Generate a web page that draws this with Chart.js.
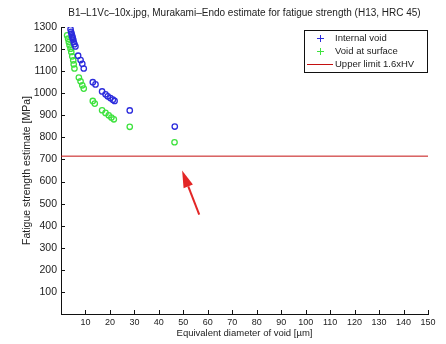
<!DOCTYPE html>
<html>
<head>
<meta charset="utf-8">
<script src="https://cdn.jsdelivr.net/npm/chart.js@4/dist/chart.umd.min.js"></script>
<style>
  html, body { margin: 0; padding: 0; background: #fff; }
  #wrap { width: 446px; height: 344px; }
</style>
</head>
<body>
<div id="wrap"><canvas id="c" width="446" height="344"></canvas></div>
<script>
// Equivalent void diameter [µm] and Murakami-Endo fatigue strength estimate [MPa]
const internalDiam = [3.9, 4.1, 4.3, 4.5, 4.6, 4.8, 5.0, 5.2, 5.5, 5.9, 7.0, 8.0, 8.7, 9.3, 13.0, 14.1, 16.8, 18.2, 19.1, 20.2, 21.2, 21.9, 28.1, 46.5];
const internalStrength = [1290, 1278, 1270, 1262, 1256, 1250, 1243, 1232, 1222, 1212, 1170, 1150, 1133, 1112, 1050, 1040, 1008, 995, 986, 978, 971, 965, 922, 849];

const surfaceDiam = [2.5, 2.9, 3.2, 3.5, 3.9, 4.2, 4.6, 5.0, 5.2, 5.5, 7.3, 8.0, 8.7, 9.3, 13.0, 13.8, 16.8, 18.2, 19.5, 20.6, 21.6, 28.1, 46.4];
const surfaceStrength = [1262, 1247, 1232, 1217, 1202, 1187, 1167, 1149, 1131, 1112, 1071, 1054, 1036, 1021, 965, 953, 923, 911, 900, 890, 882, 848, 778];

// Upper limit 1.6 x HV
const upperLimit = 715;
const xRange = [0, 150];

// Arrow pointing at the upper-limit line (data units: tail -> tip)
const arrowTail = { x: 56.5, y: 450 };
const arrowTip = { x: 49.5, y: 650 };

const seriesNames = ['Internal void', 'Void at surface', 'Upper limit 1.6xHV'];
const blue = '#2b2bdc';
const green = '#3ee23e';
const red = '#c41010';
const fontFamily = '"Liberation Sans", Arial, sans-serif';

const toPoints = (xs, ys) => xs.map((x, i) => ({ x, y: ys[i] }));

// Inward tick marks on the left and bottom axes
const inwardTicks = {
  id: 'inwardTicks',
  afterDatasetsDraw(chart) {
    const { ctx, scales: { x, y } } = chart;
    ctx.save();
    ctx.strokeStyle = '#111';
    ctx.lineWidth = 1;
    ctx.beginPath();
    x.ticks.forEach((t, i) => {
      if (t.value === 0) return;
      const px = Math.round(x.getPixelForTick(i)) + 0.5;
      ctx.moveTo(px, y.bottom);
      ctx.lineTo(px, y.bottom - 4);
    });
    y.ticks.forEach((t, i) => {
      if (t.value === 0) return;
      const py = Math.round(y.getPixelForTick(i)) + 0.5;
      ctx.moveTo(x.left, py);
      ctx.lineTo(x.left + 4, py);
    });
    ctx.stroke();
    ctx.restore();
  }
};

// Red arrow annotation
const arrowPlugin = {
  id: 'arrowPlugin',
  afterDatasetsDraw(chart) {
    const { ctx, scales: { x, y } } = chart;
    const x0 = x.getPixelForValue(arrowTail.x), y0 = y.getPixelForValue(arrowTail.y);
    const x1 = x.getPixelForValue(arrowTip.x), y1 = y.getPixelForValue(arrowTip.y);
    const ang = Math.atan2(y1 - y0, x1 - x0);
    const headLen = 17, headHalf = 5;
    const bx = x1 - headLen * Math.cos(ang), by = y1 - headLen * Math.sin(ang);
    ctx.save();
    ctx.strokeStyle = '#e32626';
    ctx.fillStyle = '#e32626';
    ctx.lineWidth = 2;
    ctx.beginPath();
    ctx.moveTo(x0, y0);
    ctx.lineTo(bx, by);
    ctx.stroke();
    ctx.beginPath();
    ctx.moveTo(x1, y1);
    ctx.lineTo(bx + headHalf * Math.sin(ang), by - headHalf * Math.cos(ang));
    ctx.lineTo(bx - headHalf * Math.sin(ang), by + headHalf * Math.cos(ang));
    ctx.closePath();
    ctx.fill();
    ctx.restore();
  }
};

// Boxed legend in the upper-right corner of the plot area
const boxLegend = {
  id: 'boxLegend',
  afterDraw(chart) {
    const { ctx, chartArea } = chart;
    const w = 123, h = 42;
    const left = chartArea.right - w - 1, top = chartArea.top + 3;
    ctx.save();
    ctx.fillStyle = '#fff';
    ctx.fillRect(left, top, w, h);
    ctx.strokeStyle = '#111';
    ctx.lineWidth = 1;
    ctx.strokeRect(Math.round(left) + 0.5, Math.round(top) + 0.5, w, h);
    ctx.font = '9.5px ' + fontFamily;
    ctx.textBaseline = 'middle';
    chart.data.datasets.forEach((ds, i) => {
      const cy = Math.round(top + 8 + i * 12.8);
      ctx.strokeStyle = ds.borderColor;
      ctx.lineWidth = 1;
      ctx.beginPath();
      if (ds.type === 'line') {
        ctx.moveTo(left + 3, cy + 0.5);
        ctx.lineTo(left + 29, cy + 0.5);
      } else {
        const mx = Math.round(left + 16);
        ctx.moveTo(mx - 3, cy + 0.5);
        ctx.lineTo(mx + 4, cy + 0.5);
        ctx.moveTo(mx + 0.5, cy - 3);
        ctx.lineTo(mx + 0.5, cy + 4);
      }
      ctx.stroke();
      ctx.fillStyle = '#222';
      ctx.fillText(ds.label, left + 31, cy + 0.5);
    });
    ctx.restore();
  }
};

new Chart(document.getElementById('c'), {
  type: 'scatter',
  data: {
    datasets: [
      {
        label: seriesNames[0],
        data: toPoints(internalDiam, internalStrength),
        borderColor: blue,
        backgroundColor: 'rgba(0,0,0,0)',
        pointRadius: 2.7,
        pointBorderWidth: 1.3,
        pointStyle: 'circle'
      },
      {
        label: seriesNames[1],
        data: toPoints(surfaceDiam, surfaceStrength),
        borderColor: green,
        backgroundColor: 'rgba(0,0,0,0)',
        pointRadius: 2.7,
        pointBorderWidth: 1.3,
        pointStyle: 'circle'
      },
      {
        type: 'line',
        label: seriesNames[2],
        data: xRange.map(x => ({ x, y: upperLimit })),
        borderColor: red,
        borderWidth: 1,
        pointRadius: 0,
        fill: false
      }
    ]
  },
  options: {
    responsive: false,
    animation: false,
    layout: { padding: { left: 0, right: 18, top: 0, bottom: 0 } },
    plugins: {
      legend: { display: false },
      tooltip: { enabled: false },
      title: {
        display: true,
        fullSize: false,
        text: 'B1\u2013L1Vc\u201310x.jpg, Murakami\u2013Endo estimate for fatigue strength (H13, HRC 45)',
        color: '#222',
        font: { family: fontFamily, size: 10, weight: 'normal' },
        padding: { top: 7, bottom: 8 }
      }
    },
    scales: {
      x: {
        type: 'linear',
        min: 0,
        max: 150,
        grid: { display: true, drawOnChartArea: false, drawTicks: false },
        border: { display: true, color: '#111', width: 1 },
        ticks: {
          stepSize: 10,
          padding: 3,
          color: '#222',
          font: { family: fontFamily, size: 9 },
          maxRotation: 0,
          autoSkip: false,
          callback: v => (v === 0 ? '' : v)
        },
        title: {
          display: true,
          text: 'Equivalent diameter of void [\u00b5m]',
          color: '#222',
          font: { family: fontFamily, size: 9.5 },
          padding: { top: 0, bottom: 5 }
        },
        afterFit(scale) { scale.height = 30; }
      },
      y: {
        type: 'linear',
        min: 0,
        max: 1300,
        grid: { display: true, drawOnChartArea: false, drawTicks: false },
        border: { display: true, color: '#111', width: 1 },
        ticks: {
          stepSize: 100,
          padding: 4,
          color: '#222',
          font: { family: fontFamily, size: 10.5 },
          autoSkip: false,
          callback: v => (v === 0 ? '' : v)
        },
        title: {
          display: true,
          text: 'Fatigue strength estimate [MPa]',
          color: '#222',
          font: { family: fontFamily, size: 10.5 },
          padding: { top: 21, bottom: 0 }
        },
        afterFit(scale) { scale.width = 61; }
      }
    }
  },
  plugins: [inwardTicks, arrowPlugin, boxLegend]
});
</script>
</body>
</html>
